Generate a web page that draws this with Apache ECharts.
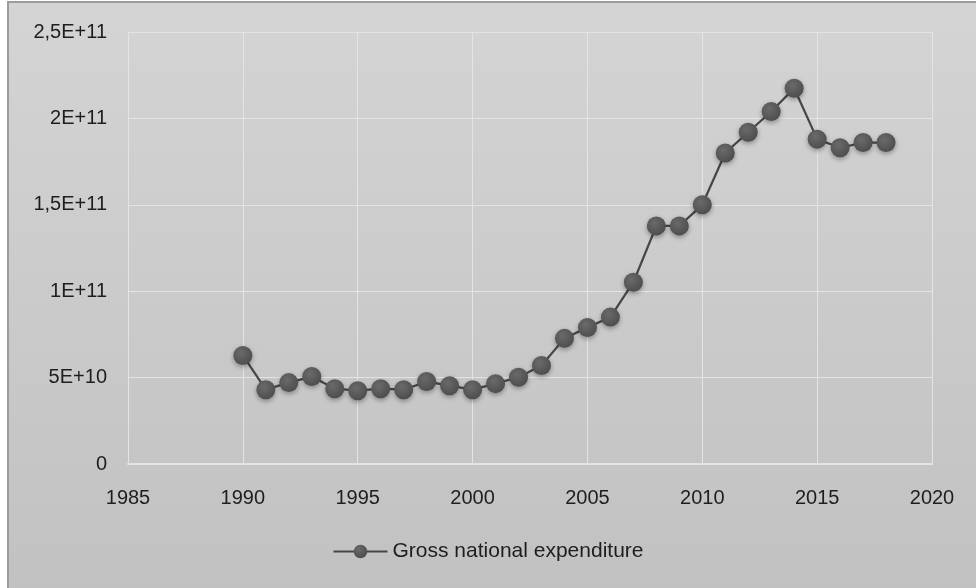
<!DOCTYPE html>
<html>
<head>
<meta charset="utf-8">
<script src="https://cdn.jsdelivr.net/npm/echarts@6/dist/echarts.min.js"></script>
<style>
  html, body { margin: 0; padding: 0; background: #ffffff; }
  #chart { width: 976px; height: 588px; }
</style>
</head>
<body>
<div id="chart"></div>
<script>
// Gross national expenditure by year
const years = [1990, 1991, 1992, 1993, 1994, 1995, 1996, 1997, 1998, 1999,
               2000, 2001, 2002, 2003, 2004, 2005, 2006, 2007, 2008, 2009,
               2010, 2011, 2012, 2013, 2014, 2015, 2016, 2017, 2018];
const expenditure = [6.28e10, 4.30e10, 4.71e10, 5.06e10, 4.36e10, 4.24e10, 4.36e10, 4.30e10, 4.77e10, 4.53e10,
                     4.30e10, 4.65e10, 5.02e10, 5.70e10, 7.27e10, 7.90e10, 8.50e10, 1.052e11, 1.378e11, 1.378e11,
                     1.50e11, 1.80e11, 1.92e11, 2.04e11, 2.174e11, 1.88e11, 1.83e11, 1.86e11, 1.86e11];
const seriesName = 'Gross national expenditure';
const yTickValues = [0, 5e10, 1e11, 1.5e11, 2e11, 2.5e11];
const yTickLabels = ['0', '5E+10', '1E+11', '1,5E+11', '2E+11', '2,5E+11'];

const points = years.map((y, i) => [y, expenditure[i]]);
const font = 'Liberation Sans';
const textColor = '#1e1e1e';

const chart = echarts.init(document.getElementById('chart'), null, { renderer: 'canvas' });
chart.setOption({
  animation: false,
  textStyle: { fontFamily: font },
  graphic: [
    {
      type: 'rect', z: -10, silent: true,
      shape: { x: 8, y: 2, width: 980, height: 600 },
      style: {
        fill: new echarts.graphic.LinearGradient(0, 0, 0, 1, [
          { offset: 0, color: '#d4d4d4' },
          { offset: 1, color: '#c1c1c1' }
        ]),
        stroke: '#9c9c9c', lineWidth: 2
      }
    }
  ],
  grid: { left: 128, right: 44, top: 32, bottom: 124, containLabel: false },
  xAxis: {
    type: 'value', min: 1985, max: 2020, interval: 5,
    axisLine: { show: true, lineStyle: { color: '#e4e4e4', width: 2 } },
    axisTick: { show: false },
    axisLabel: { color: textColor, fontSize: 20, margin: 24, fontFamily: font,
                 formatter: v => String(v) },
    splitLine: { show: true, lineStyle: { color: '#e4e4e4', width: 1 } }
  },
  yAxis: {
    type: 'value', min: 0, max: 2.5e11, interval: 5e10,
    axisLine: { show: false },
    axisTick: { show: false },
    axisLabel: {
      color: textColor, fontSize: 20, margin: 21, fontFamily: font,
      formatter: v => {
        const i = yTickValues.findIndex(t => Math.abs(t - v) < 1);
        return i >= 0 ? yTickLabels[i] : '';
      }
    },
    splitLine: { show: true, lineStyle: { color: '#e4e4e4', width: 1 } }
  },
  legend: {
    bottom: 21, left: 'center',
    itemWidth: 54, itemHeight: 17, itemGap: 10,
    textStyle: { color: textColor, fontSize: 21, fontFamily: font },
    data: [seriesName]
  },
  series: [{
    name: seriesName,
    type: 'line',
    data: points,
    symbol: 'circle',
    symbolSize: 19,
    lineStyle: { color: '#474747', width: 2.25 },
    itemStyle: {
      color: new echarts.graphic.RadialGradient(0.4, 0.35, 0.7, [
        { offset: 0, color: '#6a6a6a' },
        { offset: 1, color: '#4c4c4c' }
      ]),
      borderWidth: 0,
      shadowBlur: 5, shadowColor: 'rgba(0,0,0,0.35)', shadowOffsetY: 2
    },
    emphasis: { disabled: true }
  }]
});
</script>
</body>
</html>
